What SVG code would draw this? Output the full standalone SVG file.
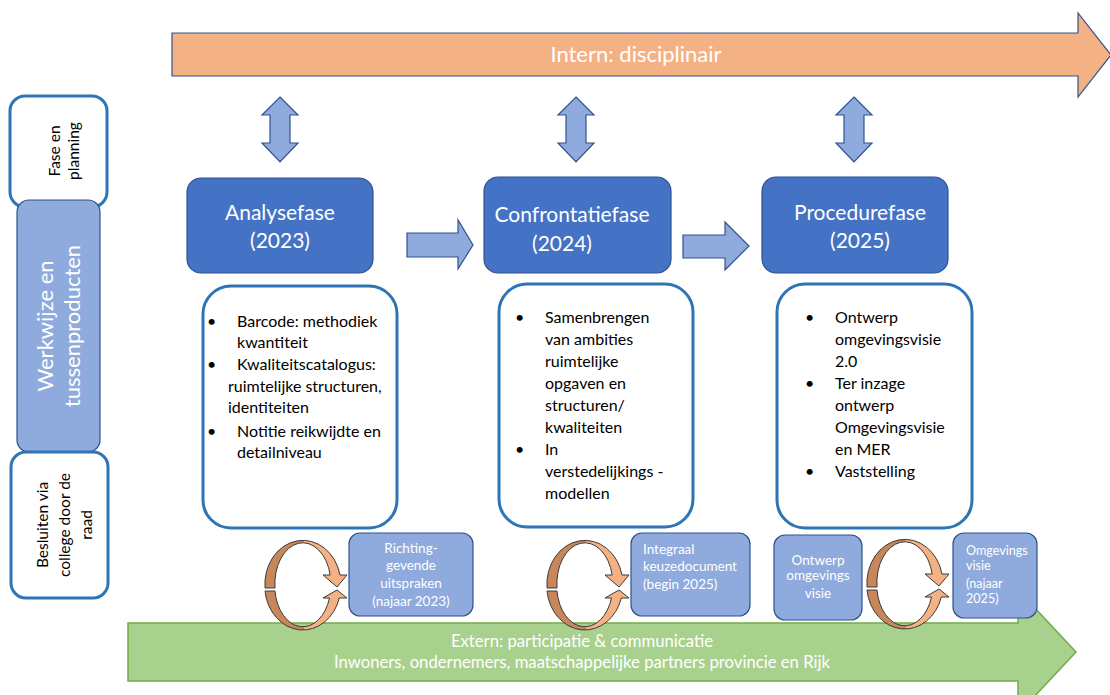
<svg xmlns="http://www.w3.org/2000/svg" width="1110" height="695" viewBox="0 0 1110 695">
<defs>
<linearGradient id="cyc" x1="0" y1="0" x2="1" y2="0">
<stop offset="0" stop-color="#c8875a"/><stop offset="0.48" stop-color="#c8875a"/><stop offset="0.48" stop-color="#f4b183"/><stop offset="1" stop-color="#f4b183"/>
</linearGradient>
</defs>
<style>
text{font-family:Lato,"Liberation Sans",sans-serif}
.ol{stroke:#2f528f;stroke-width:1.2}
.phase{fill:#4472c4;stroke:#2f528f;stroke-width:1.2}
.lt{fill:#8faadc;stroke:#2f528f;stroke-width:1.2}
.wb{fill:#fff;stroke:#2e75b6;stroke-width:3}
.ph{fill:#fff;font-size:21px;text-anchor:middle}
.bt{fill:#000;font-size:16px}
.sm{fill:#fff;font-size:13.5px}
.sm2{fill:#fff;font-size:12.6px}
.cy{fill:url(#cyc);stroke:#3a3a3a;stroke-width:1}
</style>

<g id="intern">
<path d="M172,33 L1078,33 L1078,13 L1111,55 L1078,97 L1078,76 L172,76 Z" fill="#f4b183" class="ol"/>
<text x="636" y="62" fill="#fff" font-size="22" text-anchor="middle">Intern: disciplinair</text>
</g>

<g id="extern">
<path d="M128,623 L1018,623 L1018,590 L1076,652 L1018,714 L1018,681 L128,681 Z" fill="#a9d18e" stroke="#70ad47" stroke-width="1.5"/>
<text x="582" y="647" fill="#fff" font-size="16.7" text-anchor="middle">Extern: participatie &amp; communicatie</text>
<text x="582" y="668" fill="#fff" font-size="16.7" text-anchor="middle">Inwoners, ondernemers, maatschappelijke partners provincie en Rijk</text>
</g>

<g id="connectors">
<path class="lt" d="M280,97 L298,115 L290,115 L290,143 L298,143 L280,162 L262,143 L270,143 L270,115 L262,115 Z"/>
<path class="lt" d="M576,97 L594,115 L586,115 L586,143 L594,143 L576,162 L558,143 L566,143 L566,115 L558,115 Z"/>
<path class="lt" d="M854,97 L872,115 L864,115 L864,143 L872,143 L854,162 L836,143 L844,143 L844,115 L836,115 Z"/>
<path class="lt" d="M407,233 L458,233 L458,220 L473,245 L458,269 L458,257 L407,257 Z"/>
<path class="lt" d="M683,235 L725,235 L725,222 L749,246 L725,270 L725,258 L683,258 Z"/>
</g>

<g id="fase-en-planning">
<rect x="10" y="96" width="97" height="111" rx="15" class="wb"/>
<g transform="translate(0,151) rotate(-90)">
<text x="0" y="60" font-size="15.5" text-anchor="middle" fill="#000">Fase en</text>
<text x="0" y="79" font-size="15.5" text-anchor="middle" fill="#000">planning</text>
</g>
</g>

<g id="werkwijze">
<rect x="17" y="200" width="83" height="252" rx="12" class="lt"/>
<g transform="translate(0,326) rotate(-90)">
<text x="0" y="53" font-size="22" text-anchor="middle" fill="#fff">Werkwijze en</text>
<text x="0" y="80" font-size="22" text-anchor="middle" fill="#fff">tussenproducten</text>
</g>
</g>

<g id="besluiten">
<rect x="11" y="452" width="97" height="146" rx="15" class="wb"/>
<g transform="translate(0,525) rotate(-90)">
<text x="0" y="48" font-size="15.5" text-anchor="middle" fill="#000">Besluiten via</text>
<text x="0" y="70" font-size="15.5" text-anchor="middle" fill="#000">college door de</text>
<text x="0" y="92" font-size="15.5" text-anchor="middle" fill="#000">raad</text>
</g>
</g>

<g id="analysefase">
<rect x="187" y="178" width="186" height="95" rx="14" class="phase"/>
<text class="ph" x="280" y="220">Analysefase</text>
<text class="ph" x="280" y="248">(2023)</text>
</g>

<g id="confrontatiefase">
<rect x="484" y="177" width="187" height="96" rx="14" class="phase"/>
<text class="ph" x="572" y="222">Confrontatiefase</text>
<text class="ph" x="562" y="251">(2024)</text>
</g>

<g id="procedurefase">
<rect x="762" y="177" width="186" height="96" rx="14" class="phase"/>
<text class="ph" x="860" y="220">Procedurefase</text>
<text class="ph" x="860" y="248">(2025)</text>
</g>

<g id="analyse-inhoud">
<rect x="203" y="286" width="194" height="242" rx="28" class="wb"/>
<text class="bt" x="207" y="327">•</text>
<text class="bt" x="237" y="327">Barcode: methodiek</text>
<text class="bt" x="237" y="348">kwantiteit</text>
<text class="bt" x="207" y="370">•</text>
<text class="bt" x="237" y="370">Kwaliteitscatalogus:</text>
<text class="bt" x="228" y="392">ruimtelijke structuren,</text>
<text class="bt" x="228" y="413">identiteiten</text>
<text class="bt" x="207" y="437">•</text>
<text class="bt" x="237" y="437">Notitie reikwijdte en</text>
<text class="bt" x="237" y="458">detailniveau</text>
</g>

<g id="confrontatie-inhoud">
<rect x="499" y="284" width="194" height="243" rx="28" class="wb"/>
<text class="bt" x="515" y="323">•</text>
<text class="bt" x="545" y="323">Samenbrengen</text>
<text class="bt" x="545" y="345">van ambities</text>
<text class="bt" x="545" y="367">ruimtelijke</text>
<text class="bt" x="545" y="389">opgaven en</text>
<text class="bt" x="545" y="411">structuren/</text>
<text class="bt" x="545" y="433">kwaliteiten</text>
<text class="bt" x="515" y="455">•</text>
<text class="bt" x="545" y="455">In</text>
<text class="bt" x="545" y="477">verstedelijkings -</text>
<text class="bt" x="545" y="499">modellen</text>
</g>

<g id="procedure-inhoud">
<rect x="777" y="284" width="195" height="244" rx="28" class="wb"/>
<text class="bt" x="805" y="323">•</text>
<text class="bt" x="835" y="323">Ontwerp</text>
<text class="bt" x="835" y="345">omgevingsvisie</text>
<text class="bt" x="835" y="367">2.0</text>
<text class="bt" x="805" y="389">•</text>
<text class="bt" x="835" y="389">Ter inzage</text>
<text class="bt" x="835" y="411">ontwerp</text>
<text class="bt" x="835" y="433">Omgevingsvisie</text>
<text class="bt" x="835" y="455">en MER</text>
<text class="bt" x="805" y="477">•</text>
<text class="bt" x="835" y="477">Vaststelling</text>
</g>

<g id="cyclus-1" transform="translate(303,585)">
<path class="cy" d="M-38,3 A38,44 0 0 1 37,-10 L44,-10 L34,2 L20,-10 L27.2,-10 A28,41 0 0 0 -28,3 Z"/>
<path class="cy" d="M-38,6 A38,44 0 0 0 36.3,13 L44,13 L34,5 L20,13 L26.5,13 A28,41 0 0 1 -28,6 Z"/>
</g>
<g id="cyclus-2" transform="translate(585,585)">
<path class="cy" d="M-38,3 A38,44 0 0 1 37,-10 L44,-10 L34,2 L20,-10 L27.2,-10 A28,41 0 0 0 -28,3 Z"/>
<path class="cy" d="M-38,6 A38,44 0 0 0 36.3,13 L44,13 L34,5 L20,13 L26.5,13 A28,41 0 0 1 -28,6 Z"/>
</g>
<g id="cyclus-3" transform="translate(905,584)">
<path class="cy" d="M-38,3 A38,44 0 0 1 37,-10 L44,-10 L34,2 L20,-10 L27.2,-10 A28,41 0 0 0 -28,3 Z"/>
<path class="cy" d="M-38,6 A38,44 0 0 0 36.3,13 L44,13 L34,5 L20,13 L26.5,13 A28,41 0 0 1 -28,6 Z"/>
</g>

<g id="richtinggevende-uitspraken">
<rect x="349" y="533" width="124" height="83" rx="11" class="lt"/>
<text class="sm" x="411" y="553" text-anchor="middle">Richting-</text>
<text class="sm" x="411" y="570" text-anchor="middle">gevende</text>
<text class="sm" x="411" y="588" text-anchor="middle">uitspraken</text>
<text class="sm" x="411" y="606" text-anchor="middle">(najaar 2023)</text>
</g>

<g id="integraal-keuzedocument">
<rect x="631" y="533" width="119" height="83" rx="11" class="lt"/>
<text class="sm" x="643" y="554">Integraal</text>
<text class="sm" x="643" y="571">keuzedocument</text>
<text class="sm" x="643" y="589">(begin 2025)</text>
</g>

<g id="ontwerp-omgevingsvisie">
<rect x="774" y="535" width="88" height="85" rx="11" class="lt"/>
<text class="sm" x="818" y="565" text-anchor="middle">Ontwerp</text>
<text class="sm" x="818" y="580" text-anchor="middle">omgevings</text>
<text class="sm" x="818" y="598" text-anchor="middle">visie</text>
</g>

<g id="omgevingsvisie">
<rect x="953" y="533" width="84" height="85" rx="11" class="lt"/>
<text class="sm2" x="966" y="555">Omgevings</text>
<text class="sm2" x="966" y="570">visie</text>
<text class="sm2" x="966" y="588">(najaar</text>
<text class="sm2" x="966" y="603">2025)</text>
</g>
</svg>
